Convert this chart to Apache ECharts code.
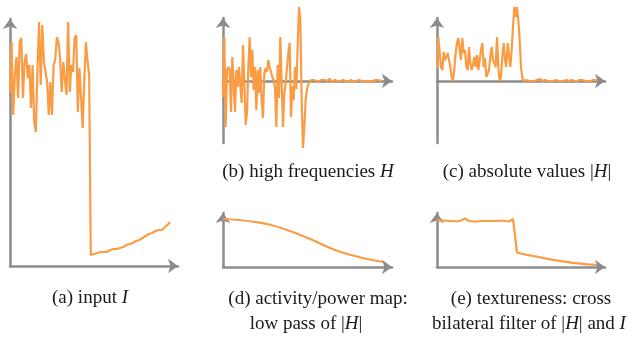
<!DOCTYPE html>
<html>
<head>
<meta charset="utf-8">
<script src="https://cdn.jsdelivr.net/npm/echarts@6/dist/echarts.min.js"></script>
<style>
  html, body { margin: 0; padding: 0; background: #fff; }
  #chart { width: 642px; height: 339px; }
</style>
</head>
<body>
<div id="chart"></div>
<script>
// (a) input I : textured part then smooth ramp
var inputHigh = [173, 224, 151, 191, 209, 168, 224, 228, 168, 204, 212, 188, 201, 158, 201, 144, 134, 198, 244, 181,
  241, 204, 206, 184, 151, 184, 151, 201, 206, 229, 224, 208, 174, 204, 186, 171, 244, 174, 201, 194,
  228, 231, 154, 198, 168, 138, 186, 224, 205, 191];
var inputLow = [11, 11, 12, 12, 13, 13, 14, 15, 14, 13, 14, 15, 16, 16, 17, 16, 17, 18, 18, 19,
  19, 19, 21, 22, 22, 23, 23, 24, 25, 25, 26, 27, 28, 29, 30, 31, 32, 33, 33, 34,
  35, 35, 36, 37, 36, 38, 39, 40, 42, 44];
// (b) high frequencies H
var highFreq = [-16, 44, -46, 11, 14, 11, -31, 24, 26, -31, 11, -6, 14, 13, -22, 36, -2, -44, -32, 14,
  44, 4, 31, -9, 14, -29, 11, -12, 14, -19, -37, 8, 13, 9, 21, 14, 9, 4, 1, -7,
  -46, 16, -17, 44, -2, -46, -12, -2, -2, 28, 38, -36, -5, -19, 14, -8, 34, 74, 61, -19,
  -67, -46, -19, -8, -3, -1, 1, 2, 1, 0,
  0, 1, 0, -1, 1, 0, 1, -1, 0, 1, 2, 0, -1, 0, 1, -1, 0, 1, 0, -1,
  1, 0, 0, 1, -1, 0, 1, 0, -1, 1, 0, -1, 1, 0, 0, 1, -1, 1, 0, -1,
  0, 1, -1, 0, 1, 0, 1, -1, 0, 1];
// (c) absolute values |H|
var absVals = [13, 44, 42, 14, 11, 29, 21, 24, 28, 29, 14, 4, 0, 12, 28, 38, 43, 41, 21, 43,
  28, 31, 14, 11, 34, 18, 11, 16, 24, 14, 26, 11, 9, 31, 38, 14, 23, 4, 6, 11,
  24, 34, 21, 19, 14, 44, 14, 0, 4, 24, 38, 21, 14, 38, 39, 14, 31, 54, 74, 64,
  74, 61, 41, 14, 3, 0,
  0, 1, 0, 0, 1, 0, 1, 0, 0, 1, 0, 2, 1, 0, 0, 1, 0, 0, 1, 0,
  1, 0, 0, 1, 0, 0, 1, 0, 1, 0, 0, 1, 0, 0, 1, 1, 0, 0, 1, 0,
  0, 1, 0, 1, 0, 0, 2, 0, 1, 0, 0, 1, 0, 1, 0];
// (d) activity / power map
var activity = [48, 47, 45, 42, 37, 31, 24, 17, 12, 8, 5];
// (e) textureness
var textureFlat = [47.5, 46.5, 46.5, 46, 46.5, 46, 46, 46.5, 46, 46, 45.5, 46, 46.5, 47, 48.5, 47, 46, 46, 45.5, 46,
  45.5, 46, 46, 45.5, 46, 46.5, 46, 45.5, 46, 45.5, 46, 46, 46.5, 46, 46, 47, 45.5, 46.5, 48, 48];
var textureDecay = [14.5, 14, 13.5, 13, 12.5, 12.2, 11.8, 11.4, 11, 10.6, 10.3, 9.9, 9.5, 9.1, 8.7, 8.3, 7.9, 7.5, 7.1, 6.8,
  6.5, 6.2, 5.9, 5.6, 5.3, 5, 4.7, 4.4, 4.1, 3.9, 3.7, 3.5, 3.3, 3.1, 2.9, 2.7, 2.5, 2.4, 2.3, 2.1, 2];

var captions = [
  { x: 90, y: 298, text: '(a) input {i|I}' },
  { x: 308, y: 172, text: '(b) high frequencies {i|H}' },
  { x: 527, y: 172, text: '(c) absolute values |{i|H}|' },
  { x: 318, y: 299, text: '(d) activity/power map:' },
  { x: 306, y: 324, text: 'low pass of |{i|H}|' },
  { x: 531, y: 299, text: '(e) textureness: cross' },
  { x: 529, y: 324, text: 'bilateral filter of |{i|H}| and {i|I}' }
];

var axisGray = '#8c8c8c';
var lineOrange = '#fa9c44';

function idx(arr) {
  var out = [];
  for (var i = 0; i < arr.length; i++) out.push([i, arr[i]]);
  return out;
}

function xAx(grid, max) {
  return {
    type: 'value', gridIndex: grid, min: 0, max: max,
    axisLine: { onZero: true, symbol: ['none', 'arrow'], symbolSize: [11, 10], lineStyle: { color: axisGray, width: 2.5 } },
    axisTick: { show: false }, axisLabel: { show: false }, splitLine: { show: false }
  };
}
function yAx(grid, min, max) {
  return {
    type: 'value', gridIndex: grid, min: min, max: max,
    axisLine: { show: true, onZero: false, symbol: ['none', 'arrow'], symbolSize: [11, 10], lineStyle: { color: axisGray, width: 2.5 } },
    axisTick: { show: false }, axisLabel: { show: false }, splitLine: { show: false }
  };
}
function line(grid, data, smooth) {
  return {
    type: 'line', xAxisIndex: grid, yAxisIndex: grid, data: data,
    showSymbol: false, smooth: !!smooth, clip: false,
    lineStyle: { color: lineOrange, width: 2.2 }
  };
}

var chart = echarts.init(document.getElementById('chart'));
chart.setOption({
  animation: false,
  grid: [
    { left: 10, top: 19, width: 168, height: 247 },
    { left: 223, top: 18, width: 169, height: 125 },
    { left: 437, top: 18, width: 168, height: 125 },
    { left: 223, top: 213, width: 169, height: 54 },
    { left: 437, top: 213, width: 168, height: 54 }
  ],
  xAxis: [xAx(0, 104), xAx(1, 126.75), xAx(2, 126), xAx(3, 10.56), xAx(4, 84)],
  yAxis: [yAx(0, 0, 247), yAx(1, -62, 63), yAx(2, -62, 63), yAx(3, 0, 54), yAx(4, 0, 54)],
  series: [
    line(0, idx(inputHigh.concat(inputLow))),
    line(1, idx(highFreq)),
    line(2, idx(absVals)),
    line(3, idx(activity), true),
    line(4, idx(textureFlat.concat(textureDecay)))
  ],
  graphic: captions.map(function (c) {
    return {
      type: 'text', x: c.x, y: c.y,
      style: {
        text: c.text, fill: '#1a1a1a', font: '19px "Liberation Serif"',
        textAlign: 'center', textVerticalAlign: 'middle',
        rich: { i: { fontStyle: 'italic', fontFamily: 'Liberation Serif', fontSize: 19, fill: '#1a1a1a' } }
      }
    };
  })
});
</script>
</body>
</html>
